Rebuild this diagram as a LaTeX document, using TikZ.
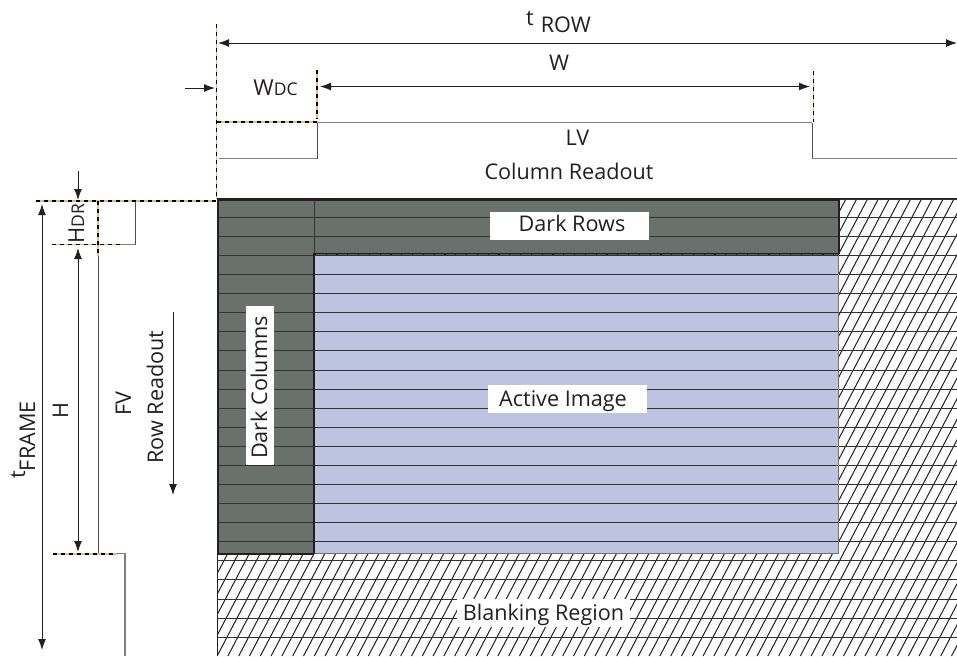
\documentclass[tikz,border=0pt]{standalone}
\usepackage{fontspec}
\setmainfont{Open Sans}
\usetikzlibrary{arrows.meta}
\definecolor{darkfill}{HTML}{6A716C}
\definecolor{activefill}{HTML}{BCC4DF}
\definecolor{tan}{HTML}{DDBF80}
\definecolor{ink}{HTML}{231F20}
\definecolor{grid}{HTML}{333333}
\definecolor{wavegray}{HTML}{7F7F7F}
\newcommand{\lbl}{\fontsize{21.6}{21.6}\selectfont}
\newcommand{\bgl}{\fontsize{22}{22}\selectfont}
\newcommand{\sml}{\fontsize{17.5}{17.5}\selectfont}
\tikzset{
  x=1pt,y=-1pt,
  dim/.style={draw=ink,line width=1pt,{Latex[length=11pt,width=8pt]}-{Latex[length=11pt,width=8pt]}},
  tip/.style={draw=ink,line width=1pt,-{Latex[length=11pt,width=8pt]}},
  wave/.style={draw=wavegray,line width=1.3pt},
  thinwave/.style={draw=ink!80,line width=1pt},
  gridl/.style={draw=grid,line width=1.2pt},
  hatchl/.style={draw=ink,line width=1pt},
  txt/.style={inner sep=0pt,font=\lbl,text=ink,anchor=base},
}
\newcommand{\guide}[2]{%
  \draw[tan,line width=1.1pt] #1 -- #2;
  \draw[black,line width=1.1pt,dash pattern=on 4pt off 4pt] #1 -- #2;}
\begin{document}
\begin{tikzpicture}
\useasboundingbox (0,0) rectangle (957,656);
% hatching
\begin{scope}
  \clip (217,199) rectangle (957,656);
  \foreach \k in {0,...,110} {\draw[hatchl] ({219.5+10.8*\k-240},656) -- ({219.5+10.8*\k},199);}
  \foreach \k in {0,...,22} {\draw[gridl] (217,{floor(217.4+19.08*\k)+0.5}) -- (957,{floor(217.4+19.08*\k)+0.5});}
  \draw[gridl] (217,199.5) -- (957,199.5);
\end{scope}
\draw[draw=ink,line width=1pt] (217.5,553) -- (217.5,656);
% fields
\fill[activefill] (315,255) rectangle (839,553.5);
\fill[darkfill] (217,199) rectangle (839,255);
\fill[darkfill] (217,255) rectangle (315,553.5);
\foreach \k in {0,...,17} {\draw[gridl] (217,{floor(217.4+19.08*\k)+0.5}) -- (839,{floor(217.4+19.08*\k)+0.5});}
\draw[gridl,line width=.9pt] (314.5,200) -- (314.5,255);
\draw[draw=grid!70!white,line width=1.5pt] (838.7,255) -- (838.7,553.5) -- (315,553.5);
\draw[draw=ink,line width=2.8pt] (313,254) -- (839,254);
\draw[draw=ink,line width=2.4pt] (314,254) -- (314,553.5);
\draw[draw=darkfill!80!black,line width=1.6pt,dash pattern=on 9.5pt off 1.3pt] (316,254.3) -- (838,254.3);
\draw[draw=ink,line width=2pt] (217.5,553.5) -- (217.5,200) -- (838.5,200) -- (838.5,254);
\draw[draw=ink,line width=2pt] (217.5,553.5) -- (314,553.5);
\draw[draw=ink,line width=1pt] (217,198.7) -- (957,198.7);
% timing waves
\draw[wave] (219,158.5) -- (317,158.5);
\draw[thinwave] (317,158.5) -- (317,122.5);
\draw[wave] (317,122.8) -- (812,122.8);
\draw[thinwave] (812,122.5) -- (812,158.5);
\draw[wave] (812,158.5) -- (957,158.5);
\draw[thinwave] (135,200) -- (135,244.5);
\draw[wave] (135,244.5) -- (98,244.5);
\draw[thinwave] (98.5,256) -- (98.5,553.5);
\draw[wave] (98.5,553.5) -- (125,553.5) -- (125,656);
% guides
\guide{(216.5,24)}{(216.5,199)}
\guide{(317,70)}{(317,119)}
\guide{(813.5,71)}{(813.5,122)}
\guide{(217,122)}{(318,122)}
\guide{(36,201)}{(216,201)}
\guide{(52,244.5)}{(120,244.5)}
\guide{(98,201)}{(98,256)}
\guide{(53,554)}{(117,554)}
% dimension arrows
\coordinate (rowL) at (218,43); \coordinate (rowR) at (957,43);
\coordinate (wL) at (320,86.5); \coordinate (wR) at (810,86.5);
\coordinate (wdcA) at (185,88); \coordinate (wdcB) at (215,88);
\coordinate (hdrA) at (78,171); \coordinate (hdrB) at (78,200);
\coordinate (frameT) at (42,204); \coordinate (frameB) at (42,650);
\coordinate (hT) at (78,248); \coordinate (hB) at (78,552);
\coordinate (rrT) at (173,312); \coordinate (rrB) at (173,495);
\draw[dim] (rowL) -- (rowR);
\draw[dim] (wL) -- (wR);
\draw[tip] (wdcA) -- (wdcB);
\draw[tip] (hdrA) -- (hdrB);
\draw[dim] (frameT) -- (frameB);
\draw[dim] (hT) -- (hB);
\draw[tip] (rrT) -- (rrB);
% white label backings
\fill[white] (490,212) rectangle (649,240);
\fill[white] (488,385) rectangle (647,412.7);
\fill[white] (246,306) rectangle (274,465);
\fill[white] (457,598.7) rectangle (630,626.5);
% labels
\node[txt] (trow) at (558.5,32) {\raisebox{7pt}{t}\hspace{7pt}ROW};
\node[txt] (w) at (559,70) {W};
\node[txt] (wdc) at (275.5,95) {{\bgl W}{\sml DC}};
\node[txt] (lv) at (577.5,145) {LV};
\node[txt] (colr) at (569,179) {Column Readout};
\node[txt] (drows) at (572,231) {Dark Rows};
\node[txt] (aimg) at (563,406.7) {Active Image};
\node[txt,rotate=90] (dcol) at (267,387.5) {Dark Columns};
\node[txt] (blank) at (543.5,620.7) {Blanking Region};
\node[txt,rotate=90] (tfr) at (35,440) {\raisebox{10pt}{t}FRAME};
\node[txt,rotate=90] (h) at (68,411) {H};
\node[txt,rotate=90] (fv) at (131,403.5) {FV};
\node[txt,rotate=90] (rr) at (163,397) {Row Readout};
\node[txt,rotate=90] (hdr) at (84,223.5) {{\bgl H}{\sml DR}};
\end{tikzpicture}
\end{document}
